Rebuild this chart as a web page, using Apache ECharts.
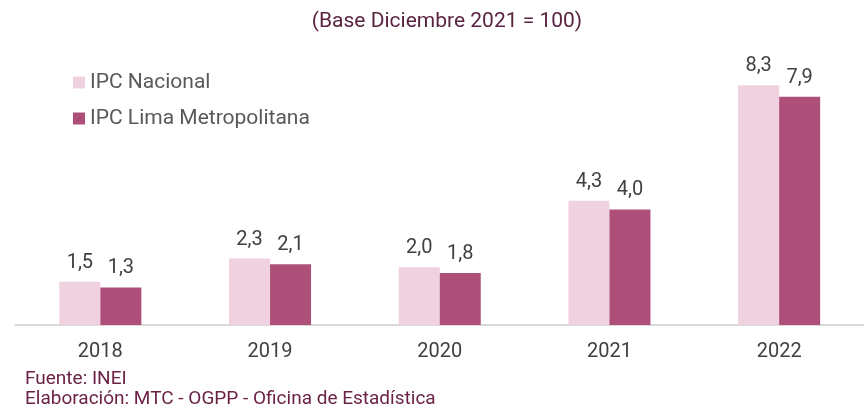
<!DOCTYPE html>
<html>
<head>
<meta charset="utf-8">
<script src="https://cdn.jsdelivr.net/npm/echarts@6/dist/echarts.min.js"></script>
<style>
  html, body { margin: 0; padding: 0; background: #fff; }
  #chart { width: 864px; height: 412px; }
</style>
</head>
<body>
<div id="chart"></div>
<script>
  var years = ['2018', '2019', '2020', '2021', '2022'];
  var nacional = [1.5, 2.3, 2.0, 4.3, 8.3];
  var lima = [1.3, 2.1, 1.8, 4.0, 7.9];

  var myChart = echarts.init(document.getElementById('chart'));
  var fmt = function (p) { return p.value.toFixed(1).replace('.', ','); };

  myChart.setOption({
    animation: false,
    textStyle: { fontFamily: 'Roboto' },
    title: {
      text: '(Base Diciembre 2021 = 100)',
      left: 442,
      textAlign: 'center',
      top: 6,
      textStyle: { color: '#5a2440', fontSize: 21, fontWeight: 'normal', fontFamily: 'Roboto' }
    },
    legend: {
      orient: 'vertical',
      left: 68,
      top: 67,
      itemWidth: 12,
      itemHeight: 12,
      itemGap: 15,
      icon: 'rect',
      textStyle: { color: '#595959', fontSize: 21, fontFamily: 'Roboto' },
      data: ['IPC Nacional', 'IPC Lima Metropolitana']
    },
    grid: { left: 15.5, width: 851, top: 36, bottom: 87 },
    xAxis: {
      type: 'category',
      data: years,
      axisLine: { lineStyle: { color: '#d9d9d9', width: 2 } },
      axisTick: { show: false },
      axisLabel: { color: '#404040', fontSize: 20, margin: 17 }
    },
    yAxis: {
      type: 'value',
      min: 0,
      max: 10,
      show: false,
      splitLine: { show: false }
    },
    graphic: [
      { type: 'text', left: 25, top: 370, style: { text: 'Fuente: INEI', fill: '#6a2346', font: '19px Roboto' } },
      { type: 'text', left: 25, top: 390, style: { text: 'Elaboración: MTC - OGPP - Oficina de Estadística', fill: '#6a2346', font: '19px Roboto' } }
    ],
    series: [
      {
        name: 'IPC Nacional',
        type: 'bar',
        data: nacional,
        barWidth: 41,
        barGap: '0%',
        itemStyle: { color: '#f0d1e0' },
        label: { show: true, position: 'top', distance: 9, color: '#404040', fontSize: 20, formatter: fmt }
      },
      {
        name: 'IPC Lima Metropolitana',
        type: 'bar',
        data: lima,
        barWidth: 41,
        itemStyle: { color: '#ae4f7a' },
        label: { show: true, position: 'top', distance: 9, color: '#404040', fontSize: 20, formatter: fmt }
      }
    ]
  });
</script>
</body>
</html>
